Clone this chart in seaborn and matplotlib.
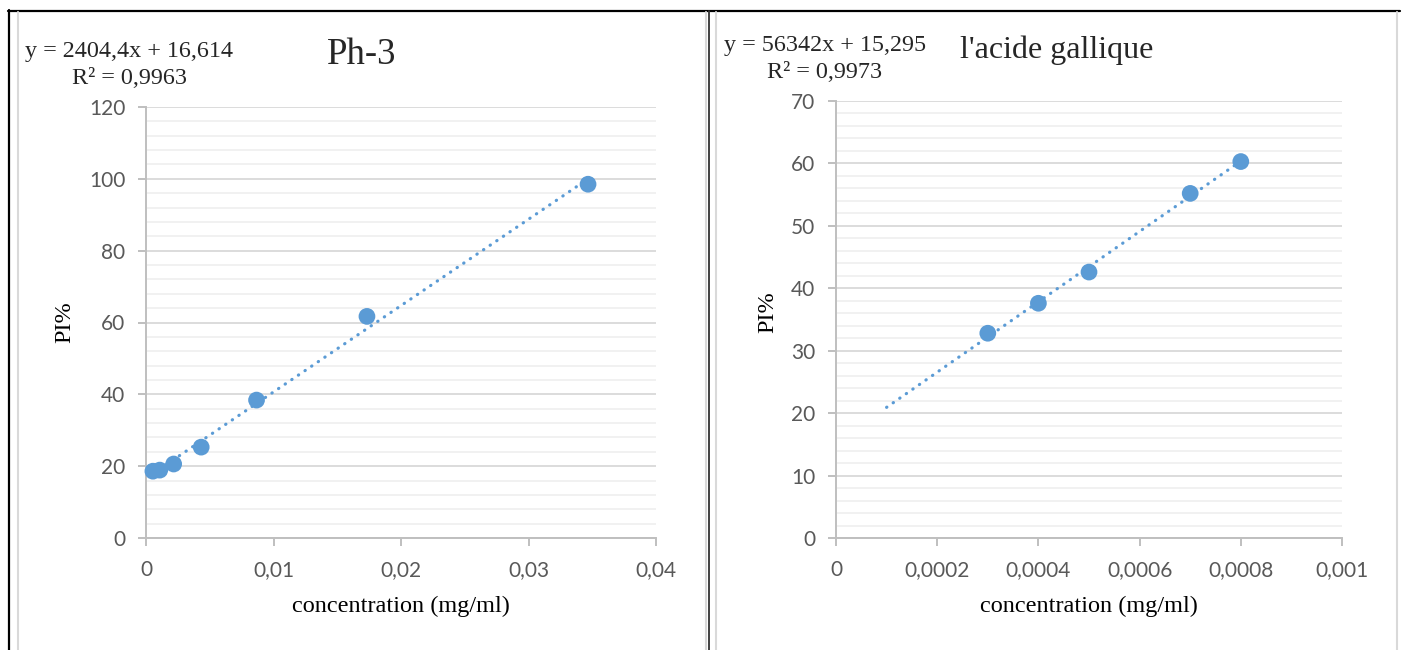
import matplotlib
matplotlib.use("Agg")
import matplotlib.pyplot as plt
from matplotlib.lines import Line2D
from matplotlib.ticker import MultipleLocator, FuncFormatter
import seaborn as sns
import pandas as pd
import numpy as np

# --- Ph-3 extract ---
ph3_conc = [0.000542, 0.00108, 0.00217, 0.00433, 0.00867, 0.01733, 0.03467]
ph3_pi = [18.6, 18.9, 20.6, 25.3, 38.4, 61.7, 98.5]
ph3_slope, ph3_intercept = 2404.4, 16.614
ph3_r2 = "0,9963"
ph3_trend_range = [0.000542, 0.03467]

# --- gallic acid reference ---
ga_conc = [0.0003, 0.0004, 0.0005, 0.0007, 0.0008]
ga_pi = [32.8, 37.6, 42.6, 55.2, 60.3]
ga_slope, ga_intercept = 56342, 15.295
ga_r2 = "0,9973"
ga_trend_range = [0.0001, 0.0008]

ph3_xticks = [0, 0.01, 0.02, 0.03, 0.04]
ga_xticks = [0, 0.0002, 0.0004, 0.0006, 0.0008, 0.001]

sns.set_theme(style="white")
plt.rcParams["font.family"] = ["Lato", "DejaVu Sans"]

W, H = 1402, 650
fig = plt.figure(figsize=(W / 100, H / 100), dpi=100)
fig.patch.set_facecolor("white")

BLUE = "#5b9bd5"
TICK_C = "#595959"
SPINE_C = "#bfbfbf"
SERIF = ["Liberation Serif", "DejaVu Serif"]


def px(x, y):
    return x / W, 1 - y / H


def comma_fmt(v, _):
    if abs(v) < 1e-12:
        return "0"
    s = ("%.4f" % v).rstrip("0").rstrip(".")
    return s.replace(".", ",")


def draw_panel(rect, conc, pi, slope, intercept, trend_range, xticks,
               ymax, ymajor, yminor, xlabel_y, ylabel_x, ylabel_y):
    ax = fig.add_axes(rect)
    df = pd.DataFrame({"conc": conc, "pi": pi})
    tx = np.array(trend_range)
    trend = pd.DataFrame({"conc": tx, "pi": slope * tx + intercept})

    ax.set_xlim(xticks[0], xticks[-1])
    ax.set_ylim(0, ymax)
    ax.xaxis.set_major_locator(plt.FixedLocator(xticks))
    ax.xaxis.set_major_formatter(FuncFormatter(comma_fmt))
    ax.yaxis.set_major_locator(MultipleLocator(ymajor))
    ax.yaxis.set_minor_locator(MultipleLocator(yminor))
    ax.yaxis.set_major_formatter(FuncFormatter(lambda v, _: "%d" % v))

    ax.grid(True, axis="y", which="major", color="#d9d9d9", lw=1.3)
    ax.grid(True, axis="y", which="minor", color="#f0f0f0", lw=1.3)
    ax.set_axisbelow(True)

    sns.lineplot(data=trend, x="conc", y="pi", ax=ax, color=BLUE, lw=2.3,
                 linestyle=(0, (0.1, 2.4)), dash_capstyle="round", zorder=2)
    sns.scatterplot(data=df, x="conc", y="pi", ax=ax, color=BLUE, s=145,
                    edgecolor="none", zorder=3, clip_on=False)

    for side in ("top", "right"):
        ax.spines[side].set_visible(False)
    for side in ("left", "bottom"):
        ax.spines[side].set_color(SPINE_C)
        ax.spines[side].set_linewidth(1.4)
    ax.tick_params(axis="both", which="major", direction="out", length=6,
                   width=1.4, color=SPINE_C, labelcolor=TICK_C, labelsize=15,
                   left=True, bottom=True)
    ax.tick_params(axis="y", which="minor", length=0)
    ax.tick_params(axis="y", pad=9)
    ax.tick_params(axis="x", pad=10)

    ax.set_xlabel("concentration (mg/ml)", family=SERIF, fontsize=17.5,
                  color="black")
    ax.set_ylabel("PI%", family=SERIF, fontsize=17.5, color="black")
    ax.xaxis.label.set_va("center")
    ax.yaxis.label.set_va("center")
    ax.xaxis.set_label_coords(0.5, xlabel_y)
    ax.yaxis.set_label_coords(ylabel_x, ylabel_y)
    return ax


# left panel: x 146..656 px, y 107..538 px
draw_panel([146 / W, (H - 538) / H, 510 / W, 431 / H],
           ph3_conc, ph3_pi, ph3_slope, ph3_intercept, ph3_trend_range,
           ph3_xticks, 120, 20, 4,
           -(606 - 538) / 431, (65 - 146) / 510, 0.5)

# right panel: x 836..1342 px, y 101..538 px
draw_panel([836 / W, (H - 538) / H, 506 / W, 437 / H],
           ga_conc, ga_pi, ga_slope, ga_intercept, ga_trend_range,
           ga_xticks, 70, 10, 2,
           -(606 - 538) / 437, (768 - 836) / 506, 0.517)

# titles and trendline equations
fig.text(*px(362, 55), "Ph-3", family=SERIF, fontsize=26.5,
         ha="center", va="center")
fig.text(*px(1057, 50), "l'acide gallique", family=SERIF, fontsize=23,
         ha="center", va="center")

fig.text(*px(25, 52), "y = 2404,4x + 16,614", family=SERIF, fontsize=17.4,
         ha="left", va="center")
fig.text(*px(129, 78), "R² = " + ph3_r2, family=SERIF, fontsize=17.4,
         ha="center", va="center")
fig.text(*px(724, 46), "y = 56342x + 15,295", family=SERIF, fontsize=17.4,
         ha="left", va="center")
fig.text(*px(825, 72), "R² = " + ga_r2, family=SERIF, fontsize=17.4,
         ha="center", va="center")

# table cell borders around the two charts
def vline(x, y0, y1, color, lw):
    fig.add_artist(Line2D([x / W, x / W], [1 - y0 / H, 1 - y1 / H],
                          color=color, lw=lw, transform=fig.transFigure))

fig.add_artist(Line2D([8 / W, 1400 / W], [1 - 11 / H, 1 - 11 / H],
                      color="black", lw=1.6, transform=fig.transFigure))
vline(9, 10, 650, "black", 1.6)
vline(708.5, 11, 650, "#333333", 1.3)
vline(17.5, 12, 650, "#d9d9d9", 1.5)
vline(706, 12, 650, "#d9d9d9", 1.5)
vline(716, 12, 650, "#d9d9d9", 1.5)
vline(1397, 12, 650, "#d9d9d9", 1.5)

fig.savefig("out.png", dpi=100, facecolor="white")
